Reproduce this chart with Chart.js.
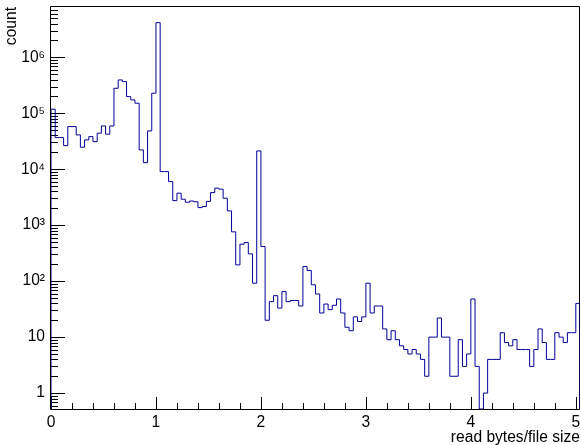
<!DOCTYPE html>
<html lang="en">
<head>
<meta charset="UTF-8">
<title>read bytes/file size</title>
<script src="https://cdn.jsdelivr.net/npm/chart.js@4.4.1/dist/chart.umd.min.js"></script>
<style>
  html, body { margin: 0; padding: 0; background: #fff; }
  #wrap { width: 581px; height: 445px; position: relative; }
</style>
</head>
<body>
<div id="wrap"><canvas id="hist"></canvas></div>
<script>
// binning of the histogram
var binStart = 0;
var binWidth = 0.04;

// entries per bin, 126 bins from 0 to 5.04
var counts = [
    118000, 36700, 36700, 26400, 57700, 57700, 41000, 24700, 33400, 38200,
    31100, 44000, 59300, 42200, 59300, 279000, 393000, 367000, 198000, 173000,
    151000, 22100, 13100, 48300, 228000, 4150000, 9060, 9060, 6000, 2750,
    3730, 2910, 2570, 2700, 2620, 2060, 2150, 2660, 3820, 4580,
    4400, 3030, 1800, 760, 195, 458, 489, 307, 92, 21200,
    415, 20, 43, 55, 33, 65, 43, 45, 45, 36,
    182, 155, 86, 59, 27, 39, 31, 37, 48, 27,
    15, 13, 23, 19, 23, 92, 27, 36, 36, 14,
    9, 13, 9, 7, 6, 5, 6, 5, 4, 2,
    10, 10, 22, 10, 10, 2, 2, 9, 3, 5,
    48, 3, 0, 1, 4, 4, 4, 12, 8, 7,
    9, 6, 6, 6, 3, 6, 14, 8, 4, 4,
    12, 10, 8, 12, 12, 40
];

var xRange = [0, 5.04];
var yRange = [0.52, 7.9e6];
var xLabelTicks = [0, 1, 2, 3, 4, 5];
var xMinorStep = 0.2;
var yLabelTicks = [1, 10, 100, 1e3, 1e4, 1e5, 1e6];
var yTickText = ['1', '10', '10\u00b2', '10\u00b3', '10\u2074', '10\u2075', '10\u2076'];

var lineColor = '#000099';

// step outline, empty bins go down to the axis floor like ROOT does
var points = [{x: binStart, y: yRange[0]}];
for (var i = 0; i < counts.length; i++) {
    points.push({x: binStart + i * binWidth, y: Math.max(counts[i], yRange[0])});
}
var binEnd = binStart + counts.length * binWidth;
points.push({x: binEnd, y: Math.max(counts[counts.length - 1], yRange[0])});
points.push({x: binEnd, y: yRange[0]});

// frame + inward tick marks (ROOT style)
var rootAxes = {
    id: 'rootAxes',
    beforeDatasetsDraw: function (chart) {
        var ctx = chart.ctx, a = chart.chartArea;
        var xs = chart.scales.x, ys = chart.scales.y;
        ctx.save();
        ctx.strokeStyle = '#000';
        ctx.lineWidth = 1;
        ctx.beginPath();
        ctx.rect(a.left - 0.5, a.top - 0.5, a.right - a.left, a.bottom - a.top + 1);

        var last = xLabelTicks[xLabelTicks.length - 1];
        for (var v = xRange[0]; v <= last + 1e-9; v += xMinorStep) {
            var px = Math.round(xs.getPixelForValue(v)) + 0.5;
            var major = Math.abs(v - Math.round(v)) < 1e-6;
            ctx.moveTo(px, a.bottom);
            ctx.lineTo(px, a.bottom - (major ? 12 : 6));
        }

        for (var d = 0.1; d <= yRange[1]; d *= 10) {
            for (var m = 1; m <= 9; m++) {
                var val = m * d;
                if (val < yRange[0] || val > yRange[1]) continue;
                var py = Math.round(ys.getPixelForValue(val)) + 0.5;
                ctx.moveTo(a.left, py);
                ctx.lineTo(a.left + (m === 1 ? 14 : 7), py);
            }
        }
        ctx.stroke();
        ctx.restore();
    }
};

Chart.defaults.font.family = '"Liberation Sans", Arial, Helvetica, sans-serif';
Chart.defaults.font.size = 15.6;
Chart.defaults.color = '#000';

var config = {
    type: 'line',
    data: {
        datasets: [{
            label: 'count',
            data: points,
            stepped: 'before',
            borderColor: lineColor,
            borderWidth: 1,
            pointRadius: 0,
            fill: false
        }]
    },
    options: {
        responsive: true,
        maintainAspectRatio: false,
        animation: false,
        layout: { padding: { top: 7, right: 1, left: 0, bottom: 0 } },
        plugins: {
            legend: { display: false },
            tooltip: { enabled: false }
        },
        scales: {
            x: {
                type: 'linear',
                min: xRange[0],
                max: xRange[1],
                grid: { display: false, drawTicks: false },
                border: { display: false },
                ticks: {
                    padding: 4,
                    maxRotation: 0,
                    autoSkip: false,
                    includeBounds: false,
                    callback: function (v) { return String(v); }
                },
                afterBuildTicks: function (s) {
                    s.ticks = xLabelTicks.map(function (v) { return {value: v}; });
                },
                afterFit: function (s) {
                    s.height = 36;
                    s.paddingLeft = 0;
                    s.paddingRight = 0;
                },
                title: {
                    display: true,
                    text: 'read bytes/file size',
                    align: 'end',
                    font: { lineHeight: 1 },
                    padding: { top: 0, bottom: 0 }
                }
            },
            y: {
                type: 'logarithmic',
                min: yRange[0],
                max: yRange[1],
                grid: { display: false, drawTicks: false },
                border: { display: false },
                ticks: {
                    padding: 6,
                    autoSkip: false,
                    callback: function (v) {
                        var k = yLabelTicks.indexOf(v);
                        return k >= 0 ? yTickText[k] : '';
                    }
                },
                afterBuildTicks: function (s) {
                    s.ticks = yLabelTicks.map(function (v) { return {value: v}; });
                },
                afterFit: function (s) {
                    s.width = 51;
                    s.paddingTop = 0;
                    s.paddingBottom = 0;
                },
                title: {
                    display: true,
                    text: 'count',
                    align: 'end',
                    font: { lineHeight: 1 },
                    padding: { top: 4, bottom: 0 }
                }
            }
        }
    },
    plugins: [rootAxes]
};

var ctx = document.getElementById('hist').getContext('2d');
window.histChart = new Chart(ctx, config);
</script>
</body>
</html>
